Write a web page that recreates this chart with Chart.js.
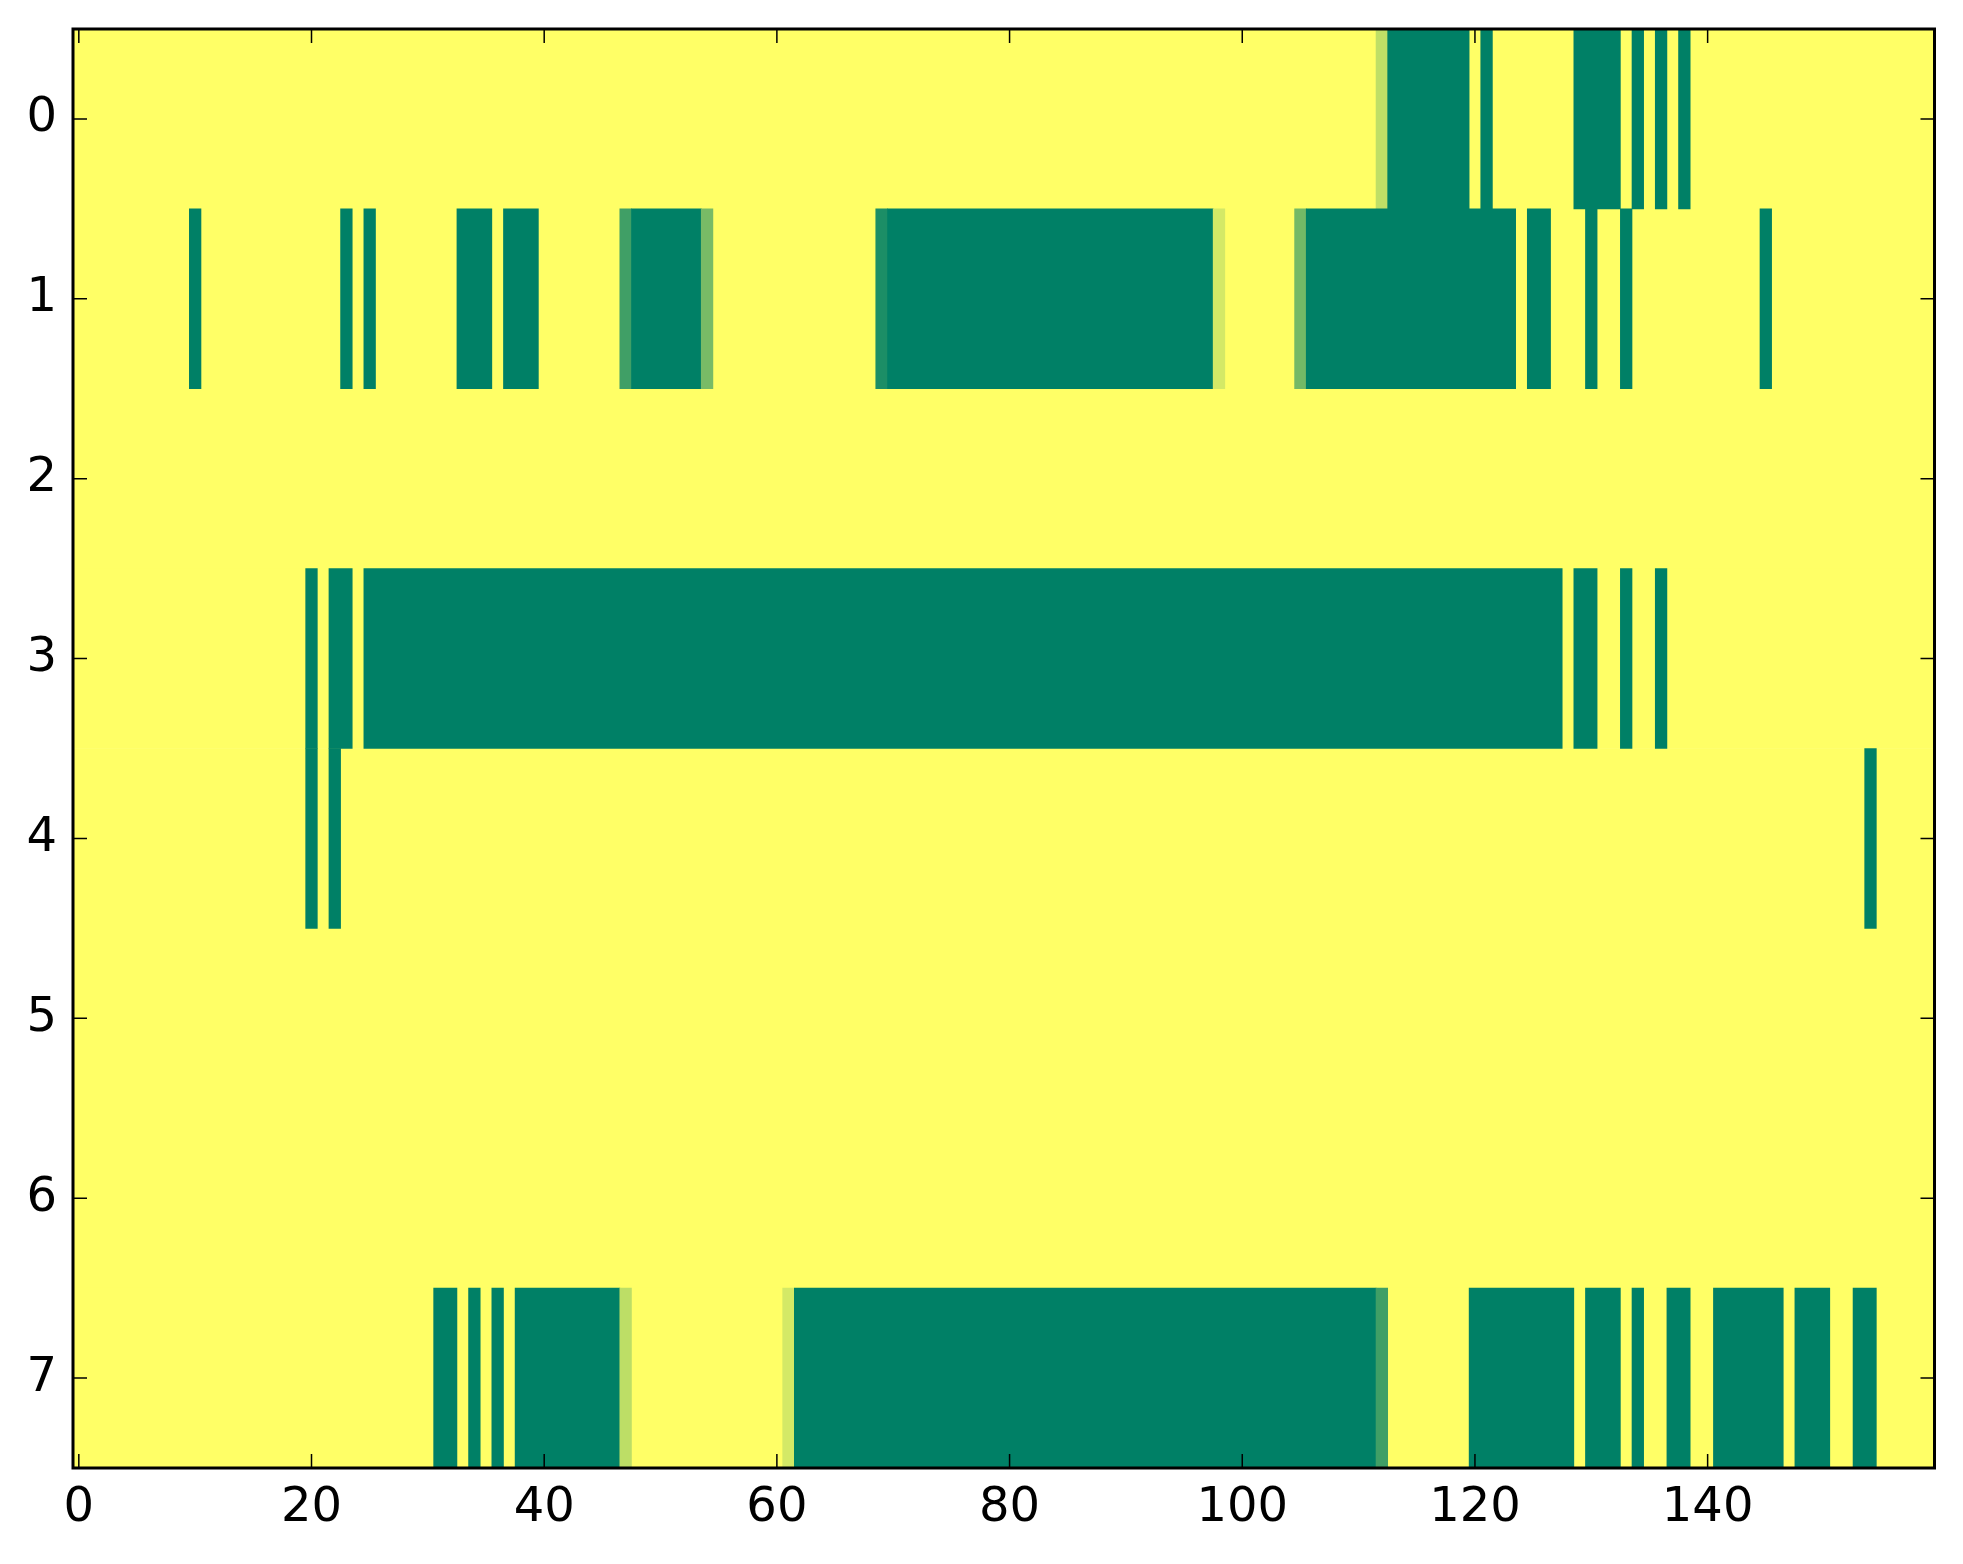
<!DOCTYPE html>
<html>
<head>
<meta charset="utf-8">
<script src="https://cdn.jsdelivr.net/npm/chart.js@4.4.1/dist/chart.umd.min.js"></script>
<style>
  html, body { margin: 0; padding: 0; background: #fff; }
  #wrap { width: 1963px; height: 1564px; }
</style>
</head>
<body>
<div id="wrap"><canvas id="heat" width="1963" height="1564"></canvas></div>
<script>
// grid size and tick labels
const nCols = 160;
const rowIndex = [0, 1, 2, 3, 4, 5, 6, 7];
const xTickValues = [0, 20, 40, 60, 80, 100, 120, 140];
const yTickValues = [0, 1, 2, 3, 4, 5, 6, 7];

// non-zero cells per row as [firstCol, lastCol, value]; every other cell is 0
const row0Runs = [[112, 112, 0.25], [113, 119, 1], [121, 121, 1], [129, 132, 1], [134, 134, 1], [136, 136, 1], [138, 138, 1]];
const row1Runs = [[10, 10, 1], [23, 23, 1], [25, 25, 1], [33, 35, 1], [37, 39, 1], [47, 47, 0.75], [48, 53, 1], [54, 54, 0.53],
                  [69, 69, 0.89], [70, 97, 1], [98, 98, 0.17], [105, 105, 0.55], [106, 123, 1], [125, 126, 1], [130, 130, 1],
                  [133, 133, 1], [145, 145, 1]];
const row2Runs = [];
const row3Runs = [[20, 20, 1], [22, 23, 1], [25, 127, 1], [129, 130, 1], [133, 133, 1], [136, 136, 1]];
const row4Runs = [[20, 20, 1], [22, 22, 1], [154, 154, 1]];
const row5Runs = [];
const row6Runs = [];
const row7Runs = [[31, 32, 1], [34, 34, 1], [36, 36, 1], [38, 46, 1], [47, 47, 0.26], [61, 61, 0.17], [62, 111, 1],
                  [112, 112, 0.75], [120, 128, 1], [130, 132, 1], [134, 134, 1], [137, 138, 1], [141, 146, 1],
                  [148, 150, 1], [153, 154, 1]];
const rowRuns = [row0Runs, row1Runs, row2Runs, row3Runs, row4Runs, row5Runs, row6Runs, row7Runs];

// matplotlib "summer_r" colour map
function summerR(v) {
    const r = Math.round(255 * (1 - v));
    const g = Math.round(255 * (1 - v / 2));
    return `rgb(${r},${g},102)`;
}

// zero background: one floating bar per row over all columns
const zeroData = rowIndex.map(r => ({ y: r, x: [-0.5, nCols - 0.5] }));

// cells: one floating bar per run
const cellData = [];
const cellColors = [];
rowRuns.forEach((runs, r) => {
    runs.forEach(([s, e, v]) => {
        cellData.push({ y: r, x: [s - 0.5, e + 0.5] });
        cellColors.push(summerR(v));
    });
});

const tickFont = { family: 'DejaVu Sans', size: 48 };

// inward ticks on all four sides plus the frame, like matplotlib classic
const axisMarks = {
    id: 'axisMarks',
    afterDraw(chart) {
        const { ctx, chartArea: a } = chart;
        const x = chart.scales.x, y = chart.scales.y;
        const len = 14;
        ctx.save();
        ctx.strokeStyle = '#000';
        ctx.lineWidth = 1.5;
        ctx.beginPath();
        xTickValues.forEach(v => {
            const px = x.getPixelForValue(v);
            ctx.moveTo(px, a.bottom); ctx.lineTo(px, a.bottom - len);
            ctx.moveTo(px, a.top); ctx.lineTo(px, a.top + len);
        });
        yTickValues.forEach(v => {
            const py = y.getPixelForValue(v);
            ctx.moveTo(a.left, py); ctx.lineTo(a.left + len, py);
            ctx.moveTo(a.right, py); ctx.lineTo(a.right - len, py);
        });
        ctx.stroke();
        ctx.lineWidth = 3;
        ctx.strokeRect(a.left, a.top, a.right - a.left, a.bottom - a.top);
        ctx.restore();
    }
};

new Chart(document.getElementById('heat').getContext('2d'), {
    type: 'bar',
    data: {
        datasets: [
            {
                label: 'cells',
                data: cellData,
                backgroundColor: cellColors,
                borderWidth: 0,
                grouped: false,
                barPercentage: 1,
                categoryPercentage: 1,
                order: 0
            },
            {
                label: 'zero',
                data: zeroData,
                backgroundColor: summerR(0),
                borderWidth: 0,
                grouped: false,
                barPercentage: 1,
                categoryPercentage: 1,
                order: 1
            }
        ]
    },
    options: {
        indexAxis: 'y',
        responsive: false,
        animation: false,
        layout: { padding: { top: 29, right: 28.5, left: 0, bottom: 0 } },
        plugins: {
            legend: { display: false },
            tooltip: { enabled: false }
        },
        scales: {
            x: {
                type: 'linear',
                position: 'bottom',
                min: -0.5,
                max: nCols - 0.5,
                offset: false,
                grid: { display: false, drawTicks: false },
                border: { display: false },
                ticks: { font: tickFont, color: '#000', padding: 12, maxRotation: 0, autoSkip: false },
                afterBuildTicks: s => { s.ticks = xTickValues.map(v => ({ value: v })); },
                afterFit: s => { s.height = 96; }
            },
            y: {
                type: 'linear',
                position: 'left',
                reverse: true,
                min: -0.5,
                max: rowIndex.length - 0.5,
                offset: false,
                grid: { display: false, drawTicks: false },
                border: { display: false },
                ticks: { font: tickFont, color: '#000', padding: 16, autoSkip: false },
                afterBuildTicks: s => { s.ticks = yTickValues.map(v => ({ value: v })); },
                afterFit: s => { s.width = 73; s.paddingTop = 0; s.paddingBottom = 0; }
            }
        }
    },
    plugins: [axisMarks]
});
</script>
</body>
</html>
